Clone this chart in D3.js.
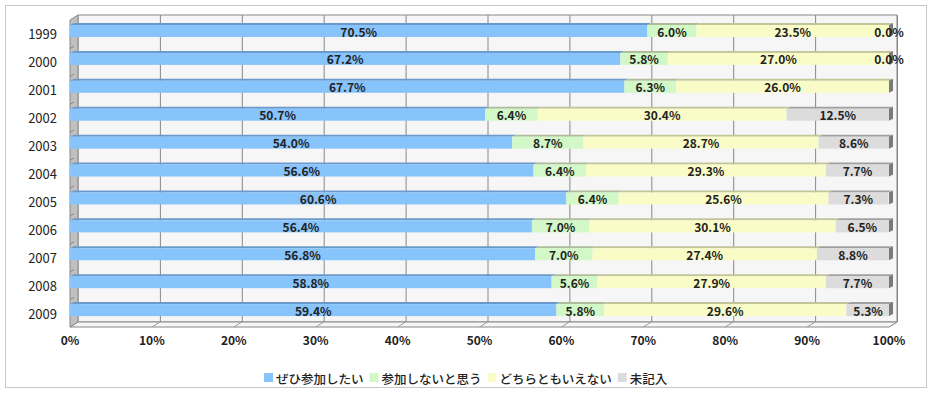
<!DOCTYPE html>
<html>
<head>
<meta charset="utf-8">
<script src="https://cdn.jsdelivr.net/npm/d3@7.9.0/dist/d3.min.js"></script>
<style>
  body { margin: 0; background: #fff; }
  svg { display: block; font-family: "Noto Sans CJK JP", "DejaVu Sans", sans-serif; }
</style>
</head>
<body>
<div id="chart"></div>
<script>
const years = ["1999","2000","2001","2002","2003","2004","2005","2006","2007","2008","2009"];
const seriesNames = ["ぜひ参加したい","参加しないと思う","どちらともいえない","未記入"];
const want    = [70.5, 67.2, 67.7, 50.7, 54.0, 56.6, 60.6, 56.4, 56.8, 58.8, 59.4];
const wontGo  = [6.0, 5.8, 6.3, 6.4, 8.7, 6.4, 6.4, 7.0, 7.0, 5.6, 5.8];
const neither = [23.5, 27.0, 26.0, 30.4, 28.7, 29.3, 25.6, 30.1, 27.4, 27.9, 29.6];
const noAns   = [0.0, 0.0, null, 12.5, 8.6, 7.7, 7.3, 6.5, 8.8, 7.7, 5.3];
const ticks = [0,10,20,30,40,50,60,70,80,90,100];

const colors = ["#88c4fc", "#d2f8c8", "#fafcc8", "#dcdcdc"];
const topColors = ["#6a9acc", "#aebc9a", "#c4c49a", "#a0a0a0"];

const width = 933, height = 393;
const dx = 8, dy = -5;

const table = years.map((y, i) => ({
  year: y, s0: want[i], s1: wontGo[i], s2: neither[i], s3: noAns[i] || 0, lab3: noAns[i]
}));
const keys = ["s0","s1","s2","s3"];
const stacked = d3.stack().keys(keys)(table);

const svg = d3.select("#chart").append("svg")
  .attr("width", width).attr("height", height);

svg.append("rect").attr("x", 5.5).attr("y", 5.5).attr("width", 921).attr("height", 382)
  .attr("fill", "#fff").attr("stroke", "#c8c8c8");

const x = d3.scaleLinear().domain([0, 100]).range([70, 889]);
const y = d3.scaleBand().domain(years).range([20, 327]);
const top0 = y.range()[0], bot0 = y.range()[1];

// walls
const poly = pts => pts.map(p => p.join(",")).join(" ");
svg.append("polygon")
  .attr("points", poly([[x(0)+dx, top0+dy],[x(100)+dx, top0+dy],[x(100)+dx, bot0+dy],[x(0)+dx, bot0+dy]]))
  .attr("fill", "#f6f6f6").attr("stroke", "#888");
svg.append("polygon")
  .attr("points", poly([[x(0), bot0],[x(0)+dx, bot0+dy],[x(100)+dx, bot0+dy],[x(100), bot0]]))
  .attr("fill", "#f6f6f6").attr("stroke", "#888");
svg.append("polygon")
  .attr("points", poly([[x(0), top0],[x(0)+dx, top0+dy],[x(0)+dx, bot0+dy],[x(0), bot0]]))
  .attr("fill", "#c0c0c0").attr("stroke", "#888");

// gridlines
svg.selectAll(".grid").data(ticks.slice(1)).enter().append("line")
  .attr("x1", d => x(d)+dx+0.5).attr("x2", d => x(d)+dx+0.5)
  .attr("y1", top0+dy).attr("y2", bot0+dy)
  .attr("stroke", "#888");
svg.selectAll(".floorTick").data(ticks.slice(1)).enter().append("line")
  .attr("x1", d => x(d)+dx).attr("y1", bot0+dy)
  .attr("x2", d => x(d)).attr("y2", bot0)
  .attr("stroke", "#999");

// left wall ticks
svg.selectAll(".ltick").data(years.slice(1)).enter().append("line")
  .attr("x1", x(0)).attr("x2", x(0)+4)
  .attr("y1", d => y(d)+0.5).attr("y2", d => y(d)-2+0.5)
  .attr("stroke", "#888");

// bars
const bh = 12, bd = 4, bdy = 2;
stacked.forEach((layer, si) => {
  const g = svg.append("g");
  layer.forEach((d, i) => {
    const x0 = x(d[0]), x1 = x(d[1]);
    const yt = y(years[i]) + 5;
    if (x1 - x0 <= 0) return;
    g.append("polygon")
      .attr("points", poly([[x0, yt],[x0+bd, yt-bdy],[x1+bd, yt-bdy],[x1, yt]]))
      .attr("fill", topColors[si]);
    g.append("rect").attr("x", x0).attr("y", yt).attr("width", x1 - x0).attr("height", bh)
      .attr("fill", colors[si]);
  });
});
// bar ends
table.forEach(d => {
  const x1 = x(100), yt = y(d.year) + 5;
  svg.append("polygon")
    .attr("points", poly([[x1, yt],[x1+bd, yt-bdy],[x1+bd, yt+bh-bdy],[x1, yt+bh]]))
    .attr("fill", "#7a7a7a");
});

// value labels
stacked.forEach((layer, si) => {
  layer.forEach((d, i) => {
    const v = si === 3 ? table[i].lab3 : table[i][keys[si]];
    if (v === null) return;
    let cx = (x(d[0]) + x(d[1])) / 2;
    if (v === 0) cx = x(100);
    svg.append("text")
      .attr("x", cx).attr("y", y(years[i]) + 5 + bh / 2)
      .attr("text-anchor", "middle").attr("dominant-baseline", "central")
      .attr("font-size", "12px").attr("font-weight", "bold").attr("fill", "#222")
      .text(v.toFixed(1) + "%");
  });
});

// year labels
svg.selectAll(".ylab").data(years).enter().append("text")
  .attr("x", 57).attr("y", d => y(d) + y.bandwidth() / 2)
  .attr("text-anchor", "end").attr("dominant-baseline", "central")
  .attr("font-size", "13px").attr("fill", "#222")
  .text(d => d);

// x axis labels
svg.selectAll(".xlab").data(ticks).enter().append("text")
  .attr("x", d => x(d)).attr("y", 339)
  .attr("text-anchor", "middle").attr("dominant-baseline", "central")
  .attr("font-size", "12px").attr("font-weight", "bold").attr("fill", "#222")
  .text(d => d + "%");

// legend
let lx = 264;
const ly = 378;
seriesNames.forEach((name, i) => {
  svg.append("rect").attr("x", lx).attr("y", ly - 5).attr("width", 9).attr("height", 9)
    .attr("fill", colors[i]);
  const t = svg.append("text").attr("x", lx + 12).attr("y", ly)
    .attr("dominant-baseline", "central")
    .attr("font-size", "12.5px").attr("font-weight", "500").attr("fill", "#222").text(name);
  lx += 12 + t.node().getComputedTextLength() + 6;
});
</script>
</body>
</html>
